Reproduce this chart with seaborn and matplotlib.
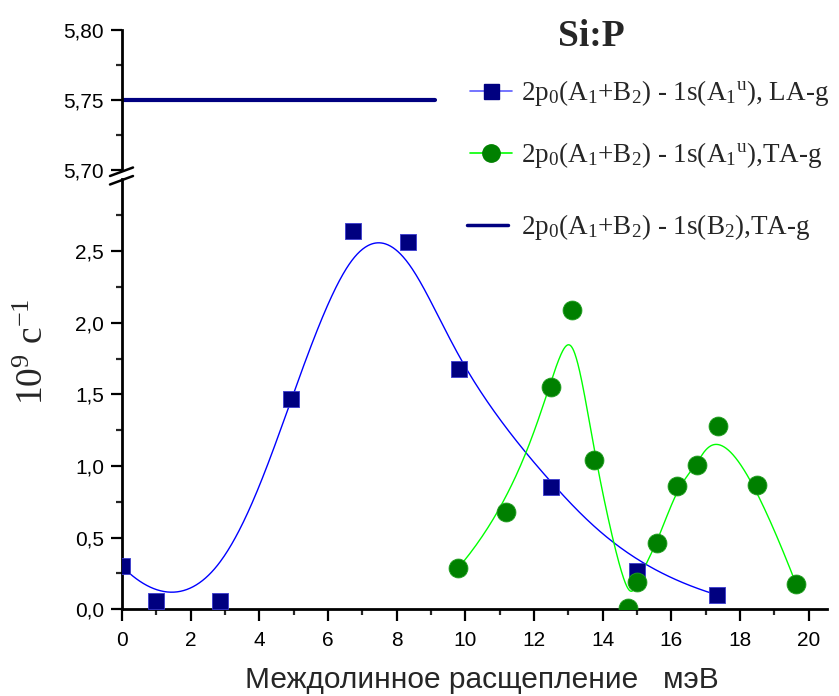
import numpy as np
import pandas as pd
import matplotlib
matplotlib.use("Agg")
import matplotlib.pyplot as plt
from matplotlib.lines import Line2D
import seaborn as sns

# ---- data -------------------------------------------------------------
# 2p0(A1+B2) - 1s(A1u), LA-g
la_x = [0.0, 1.0, 2.86, 4.93, 6.72, 8.32, 9.81, 12.49, 14.99, 17.34]
la_y = [0.30, 0.06, 0.06, 1.47, 2.64, 2.56, 1.68, 0.85, 0.27, 0.10]

# 2p0(A1+B2) - 1s(A1u), TA-g
ta_x = [9.80, 11.18, 12.49, 13.11, 13.76, 14.74, 14.99, 15.59, 16.18, 16.76, 17.35, 18.51, 19.63]
ta_y = [0.29, 0.68, 1.55, 2.09, 1.04, 0.01, 0.19, 0.46, 0.86, 1.01, 1.28, 0.87, 0.18]

# 2p0(A1+B2) - 1s(B2), TA-g
b2_x = [0.0, 9.12]
b2_y = [5.75, 5.75]

x_ticks = [0, 2, 4, 6, 8, 10, 12, 14, 16, 18, 20]
low_ticks = [0.0, 0.5, 1.0, 1.5, 2.0, 2.5]
low_tick_labels = ["0,0", "0,5", "1,0", "1,5", "2,0", "2,5"]
up_ticks = [5.70, 5.75, 5.80]
up_tick_labels = ["5,70", "5,75", "5,80"]

legend_labels = [
    r"2p$_0$(A$_1$+B$_2$) - 1s(A$_1$$^u$), LA-g",
    r"2p$_0$(A$_1$+B$_2$) - 1s(A$_1$$^u$),TA-g",
    r"2p$_0$(A$_1$+B$_2$) - 1s(B$_2$),TA-g",
]
title_text = "Si:P"
x_label = "Междолинное расщепление   мэВ"
y_label = r"10$^9$ c$^{-1}$"


# ---- clamped cubic B-spline with the points as control polygon ----------
def bspline(cx, cy, degree=3, n=600):
    P = np.column_stack([cx, cy]).astype(float)
    m = len(P)
    k = min(degree, m - 1)
    knots = np.concatenate([np.zeros(k), np.linspace(0, 1, m - k + 1), np.ones(k)])
    t = np.linspace(0, 1, n)
    nb = len(knots) - 1
    N = np.zeros((nb, n))
    for i in range(nb):
        N[i] = (knots[i] <= t) & (t < knots[i + 1])
    last = np.max(np.nonzero(knots < 1.0)[0])
    N[last, t >= 1.0] = 1.0
    for p in range(1, k + 1):
        Nn = np.zeros((nb - p, n))
        for i in range(nb - p):
            d1 = knots[i + p] - knots[i]
            d2 = knots[i + p + 1] - knots[i + 1]
            a = (t - knots[i]) / d1 * N[i] if d1 > 0 else 0.0
            b = (knots[i + p + 1] - t) / d2 * N[i + 1] if d2 > 0 else 0.0
            Nn[i] = a + b
        N = Nn
    C = N.T @ P
    return C[:, 0], C[:, 1]


la_cx, la_cy = bspline(la_x, la_y)
ta_cx, ta_cy = bspline(ta_x, ta_y)

# ---- style --------------------------------------------------------------
sns.set_theme(style="white")
plt.rcParams["font.family"] = ["Liberation Sans", "DejaVu Sans"]
plt.rcParams["mathtext.default"] = "regular"
serif = ["Liberation Serif", "DejaVu Serif"]

W, H = 839, 696
fig = plt.figure(figsize=(W / 100, H / 100), dpi=100)


def fx(px):
    return px / W


def fy(py):
    return 1 - py / H


left, right = 122, 827
ax_up = fig.add_axes([fx(left), fy(170), fx(right - left), (170 - 30) / H])
ax_lo = fig.add_axes([fx(left), fy(609.3), fx(right - left), (609.3 - 179.4) / H])

navy = "#000080"
blue = "#0000ff"
green_line = "#00ff00"
green_fill = "#008000"

# lower panel: smoothed curves and measured points
sns.lineplot(x=la_cx, y=la_cy, sort=False, estimator=None, color=blue, lw=1.0, ax=ax_lo)
sns.lineplot(x=ta_cx, y=ta_cy, sort=False, estimator=None, color=green_line, lw=1.0, ax=ax_lo)
sns.scatterplot(x=la_x, y=la_y, marker="s", s=125, color=navy, edgecolor="#3a3ad0",
                linewidth=0.6, ax=ax_lo, zorder=3)
sns.scatterplot(x=ta_x, y=ta_y, marker="o", s=185, color=green_fill, edgecolor="#1f9f1f",
                linewidth=0.6, ax=ax_lo, zorder=3)

# upper panel: B2 level
sns.lineplot(x=b2_x, y=b2_y, sort=False, estimator=None, color=navy, lw=3.0, ax=ax_up)

xmax = (right - left) / 34.33
for ax in (ax_up, ax_lo):
    ax.set_xlim(0, xmax)
    ax.set_xlabel("")
    ax.set_ylabel("")
    ax.spines["top"].set_visible(False)
    ax.spines["right"].set_visible(False)
    ax.spines["left"].set_linewidth(2.0)
    ax.spines["bottom"].set_linewidth(2.0)
    ax.spines["left"].set_color("black")
    ax.spines["bottom"].set_color("black")
    ax.tick_params(axis="y", which="major", direction="out", length=8, width=1.6,
                   labelsize=15, pad=5, left=True, colors="black")
    ax.tick_params(axis="y", which="minor", direction="out", length=4, width=1.6, left=True)
    ax.set_facecolor("white")

ax_up.set_ylim(5.70, 5.80)
ax_up.set_yticks(up_ticks)
ax_up.set_yticklabels(up_tick_labels)
ax_up.set_yticks([5.725, 5.775], minor=True)
ax_up.spines["bottom"].set_visible(False)
ax_up.set_xticks([])

ax_lo.set_ylim(0, 3.0)
ax_lo.set_yticks(low_ticks)
ax_lo.set_yticklabels(low_tick_labels)
ax_lo.set_yticks([0.25, 0.75, 1.25, 1.75, 2.25, 2.75], minor=True)
ax_lo.set_xticks(x_ticks)
ax_lo.set_xticklabels([str(v) for v in x_ticks])
ax_lo.set_xticks(list(range(1, 21, 2)), minor=True)
ax_lo.tick_params(axis="x", which="major", direction="out", length=8.5, width=1.6,
                  labelsize=15, pad=7, bottom=True, colors="black")
ax_lo.tick_params(axis="x", which="minor", direction="out", length=4, width=1.6, bottom=True)

# axis break marks
for y0 in (172.5, 181):
    fig.add_artist(Line2D([fx(110), fx(133)], [fy(y0 + 3.5), fy(y0 - 5)],
                          transform=fig.transFigure, color="black", lw=1.8))

# title and legend
fig.text(fx(591), fy(36), title_text, ha="center", va="center", fontsize=27,
         fontweight="bold", family=serif)

legend_rows = [
    (90.7, dict(color="#5c5cff", lw=1.2), dict(marker="s", ms=10.8, mfc=navy, mec=navy), 470, 512),
    (152.7, dict(color=green_line, lw=1.2), dict(marker="o", ms=12.5, mfc=green_fill, mec=green_fill), 470, 512),
    (225, dict(color=navy, lw=2.5), None, 467, 508),
]
for (yy, line_style, mark_style, x0, x1), lab in zip(legend_rows, legend_labels):
    fig.add_artist(Line2D([fx(x0), fx(x1)], [fy(yy), fy(yy)],
                          transform=fig.transFigure, **line_style))
    if mark_style is not None:
        fig.add_artist(Line2D([fx((x0 + x1) / 2)], [fy(yy)], transform=fig.transFigure,
                              lw=0, **mark_style))
    fig.text(fx(521), fy(yy + 2), lab, ha="left", va="center", fontsize=19.5, family=serif)

# axis titles
fig.text(fx(34), fy(352), y_label, rotation=90, ha="center", va="center", fontsize=27,
         family=serif)
fig.text(fx(482), fy(688), x_label, ha="center", va="baseline", fontsize=21.5)

fig.savefig("out.png", dpi=100, facecolor="white")
